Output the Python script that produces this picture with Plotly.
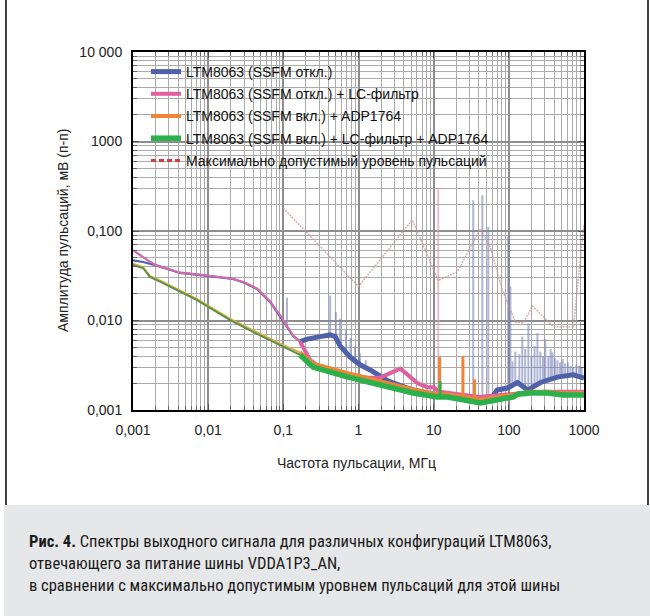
import plotly.graph_objects as go

# ---------------- data ----------------
blue_f = [0.001, 0.00136, 0.00209, 0.00284, 0.00423, 0.0078, 0.0144, 0.0215, 0.031, 0.0448,
          0.0667, 0.0908, 0.112, 0.135, 0.167, 0.207, 0.309, 0.42, 0.49, 0.57, 0.775, 1.05,
          1.43, 1.67, 2.5, 5.0, 10.0, 20.0, 40.0, 60.0, 70.0, 96.0, 130.0, 178.0, 264.0,
          440.0, 720.0, 1000.0]
blue_v = [0.047, 0.045, 0.041, 0.0376, 0.034, 0.0322, 0.0306, 0.0291, 0.0262, 0.0225,
          0.0161, 0.0112, 0.0085, 0.0067, 0.0058, 0.0062, 0.0066, 0.0069, 0.0066, 0.0052, 0.0039, 0.0032,
          0.0028, 0.0026, 0.0021, 0.0017, 0.0015, 0.0014, 0.0013, 0.0014, 0.00167, 0.00176, 0.00203, 0.00167, 0.00203,
          0.00233, 0.00247, 0.00227]

pink_f = [0.001, 0.0013, 0.0017, 0.00209, 0.00284, 0.00423, 0.0078, 0.0144, 0.0215, 0.031, 0.0448,
          0.0667, 0.0908, 0.112, 0.135, 0.167, 0.228, 0.309, 0.46, 0.775, 1.31, 1.94, 2.64, 3.59,
          4.45, 6.05, 8.22, 9.9, 12.0, 20.0, 40.0, 100.0, 300.0, 1000.0]
pink_v = [0.061, 0.052, 0.045, 0.041, 0.0378, 0.0342, 0.0325, 0.0308, 0.0293, 0.0264, 0.0227,
          0.0163, 0.0114, 0.0086, 0.0068, 0.0058, 0.0036, 0.0030, 0.0027, 0.0025, 0.0023, 0.0023, 0.0026, 0.0029,
          0.0025, 0.0020, 0.0018, 0.0018, 0.0016, 0.0015, 0.0014, 0.0015, 0.0016, 0.0016]

orange_f = [0.001, 0.00136, 0.00168, 0.0025, 0.0071, 0.0196, 0.054, 0.1, 0.167, 0.25, 0.7,
            1.94, 5.35, 11.2, 15.0, 25.0, 42.0, 70.0, 115.0, 193.0, 326.0, 530.0, 1000.0]
orange_v = [0.043, 0.0395, 0.0315, 0.027, 0.0173, 0.0104, 0.0068, 0.0053, 0.0044, 0.0033, 0.0026,
            0.0021, 0.0017, 0.0015, 0.0015, 0.0014, 0.0013, 0.0014, 0.0015, 0.0016, 0.0016, 0.00155, 0.00155]

green_f = [0.001, 0.00136, 0.00168, 0.00251, 0.00712, 0.0196, 0.0538, 0.1, 0.167, 0.249, 0.708,
           1.94, 5.35, 11.2, 15.2, 24.8, 41.8, 70.3, 115.0, 130.0, 193.0, 326.0, 532.0, 1000.0]
green_v = [0.0415, 0.0386, 0.0306, 0.0262, 0.0169, 0.0101, 0.00655, 0.00506, 0.00412, 0.00302, 0.00234,
           0.0019, 0.00155, 0.0014, 0.0014, 0.0013, 0.0012, 0.0013, 0.0014, 0.0015, 0.00155, 0.00155, 0.00147, 0.00147]

limit_f = [0.1, 1.0, 5.2, 11.5, 20.6, 41.7, 56.7, 82.0, 122.0, 156.0, 206.0, 392.0, 723.0, 955.0, 1000.0]
limit_v = [0.18, 0.024, 0.133, 0.028, 0.035, 0.105, 0.066, 0.022, 0.0096, 0.0094, 0.0145, 0.0085, 0.0085, 0.079, 0.12]

# spikes: frequency, foot, top
blue_spk_f = [0.112, 0.42, 0.50, 0.57, 0.68, 0.78, 0.90, 1.05, 1.25, 33.6, 44.4, 53.3, 98.0, 105.0,
              112.0, 122.0, 138.0, 151.0, 165.0, 182.0, 200.0, 220.0, 240.0, 262.0, 285.0, 306.0,
              335.0, 360.0, 380.0, 410.0, 443.0, 480.0, 520.0, 560.0, 610.0, 660.0, 720.0, 790.0,
              860.0, 930.0]
blue_spk_lo = [0.0085, 0.0069, 0.0066, 0.0052, 0.0045, 0.0039, 0.0035, 0.0032, 0.003, 0.0013, 0.0013, 0.0013, 0.0017, 0.0018,
               0.0019, 0.002, 0.002, 0.0018, 0.0017, 0.0017, 0.0019, 0.002, 0.002, 0.002, 0.0021, 0.0021,
               0.0021, 0.0022, 0.0022, 0.0023, 0.0023, 0.0023, 0.0024, 0.0024, 0.0024, 0.0025, 0.0025, 0.0024,
               0.0024, 0.0023]
blue_spk_hi = [0.018, 0.019, 0.0125, 0.0105, 0.0078, 0.0064, 0.0052, 0.0043, 0.0036, 0.22, 0.25, 0.111, 0.086, 0.024,
               0.0035, 0.0045, 0.0042, 0.0066, 0.0048, 0.0093, 0.0040, 0.0052, 0.0072, 0.0045, 0.0040, 0.0062,
               0.0040, 0.0048, 0.0044, 0.0038, 0.0036, 0.0034, 0.0037, 0.0033, 0.0034, 0.0031, 0.0030, 0.0032,
               0.0031, 0.0030]
pink_spk_f = [11.5]
pink_spk_lo = [0.0016]
pink_spk_hi = [0.3]
orange_spk_f = [12.0, 24.5, 35.0]
orange_spk_lo = [0.0014, 0.0013, 0.0013]
orange_spk_hi = [0.0039, 0.0040, 0.0022]
green_spk_f = [12.2]
green_spk_lo = [0.0014]
green_spk_hi = [0.0021]

names = ["LTM8063 (SSFM откл.)",
         "LTM8063 (SSFM откл.) + LC-фильтр",
         "LTM8063 (SSFM вкл.) + ADP1764",
         "LTM8063 (SSFM вкл.) + LC-фильтр + ADP1764",
         "Максимально допустимый уровень пульсаций"]

x_ticks = [0.001, 0.01, 0.1, 1, 10, 100, 1000]
x_text = ["0,001", "0,01", "0,1", "1", "10", "100", "1000"]
y_ticks = [0.001, 0.01, 0.1, 1, 10]
y_text = ["0,001", "0,010", "0,100", "1000", "10 000"]

caption = ["<b>Рис. 4.</b> Спектры выходного сигнала для различных конфигураций LTM8063,",
           "отвечающего за питание шины VDDA1P3_AN,",
           "в сравнении с максимально допустимым уровнем пульсаций для этой шины"]

# ---------------- layout geometry ----------------
W, H = 650, 616
L, R, T, B = 133, 584, 52, 410
def X(px): return (px - L) / (R - L)
def Y(py): return (B - py) / (B - T)

FONT = "Liberation Sans, Arial, sans-serif"
SPLIT = 0.167

fig = go.Figure()

def spikes(fs, lo, hi, color, width):
    xs, ys = [], []
    for f, a, b in zip(fs, lo, hi):
        xs += [f, f, None]
        ys += [a, b, None]
    fig.add_trace(go.Scatter(x=xs, y=ys, mode="lines", line=dict(color=color, width=width),
                             showlegend=False, hoverinfo="skip"))

spikes(blue_spk_f, blue_spk_lo, blue_spk_hi, "rgba(120,132,188,0.6)", 2)
spikes(pink_spk_f, pink_spk_lo, pink_spk_hi, "rgba(225,160,185,0.7)", 2)

def series(fs, vs, color_lo, color, lw_lo, lw_hi, name, rank):
    lo = [(f, v) for f, v in zip(fs, vs) if f <= SPLIT]
    hi = [(f, v) for f, v in zip(fs, vs) if f >= SPLIT]
    fig.add_trace(go.Scatter(x=[p[0] for p in lo], y=[p[1] for p in lo], mode="lines",
                             line=dict(color=color_lo, width=lw_lo), showlegend=False, hoverinfo="skip",
                             legendgroup="g%d" % rank))
    fig.add_trace(go.Scatter(x=[p[0] for p in hi], y=[p[1] for p in hi], mode="lines",
                             line=dict(color=color, width=lw_hi), name=name, legendrank=rank,
                             legendgroup="g%d" % rank))

series(blue_f, blue_v, "#4f61a8", "#4f61a8", 2.2, 5, names[0], 1)
series(pink_f, pink_v, "#cf6aae", "#e0609f", 2.2, 4, names[1], 2)
series(orange_f, orange_v, "#d9b040", "#f08436", 2, 4, names[2], 3)
spikes(orange_spk_f, orange_spk_lo, orange_spk_hi, "#f08436", 3)
series(green_f, green_v, "#5f8f48", "#2bb14c", 2, 5.5, names[3], 4)
spikes(green_spk_f, green_spk_lo, green_spk_hi, "#2bb14c", 3)

fig.add_trace(go.Scatter(x=limit_f, y=limit_v, mode="lines",
                         line=dict(color="rgba(200,150,150,0.75)", width=1.5, dash="2px,1px"),
                         showlegend=False, hoverinfo="skip"))
fig.add_trace(go.Scatter(x=[None], y=[None], mode="lines",
                         line=dict(color="#d63a3a", width=3, dash="5px,3px"),
                         name=names[4], legendrank=5, legendgroup="g5"))

def minor_vals(lo_exp, hi_exp):
    out = []
    for e in range(lo_exp, hi_exp):
        for m in range(2, 10):
            out.append(m * 10.0 ** e)
    return out

axis_common = dict(type="log", showline=True, linecolor="black", linewidth=2, mirror="allticks",
                   ticks="inside", ticklen=6, tickcolor="#555", tickwidth=1,
                   showgrid=True, gridcolor="#8e8e8e", gridwidth=1.5, zeroline=False,
                   tickfont=dict(family=FONT, size=14, color="#222"), tickmode="array")

fig.update_xaxes(range=[-3, 3], tickvals=x_ticks, ticktext=x_text, ticklabelstandoff=6,
                 minor=dict(tickvals=minor_vals(-3, 3), showgrid=True, gridcolor="#ababab", gridwidth=1,
                            ticks="inside", ticklen=4, tickcolor="#666"),
                 **axis_common)
fig.update_yaxes(range=[-3, 1], tickvals=y_ticks, ticktext=y_text, ticklabelstandoff=6,
                 minor=dict(tickvals=minor_vals(-3, 1), showgrid=True, gridcolor="#ababab", gridwidth=1,
                            ticks="inside", ticklen=4, tickcolor="#666"),
                 **axis_common)

shapes = [
    # white legend panel over the grid
    dict(type="rect", xref="paper", yref="paper", x0=X(135), x1=X(550), y0=Y(180), y1=Y(53.5),
         fillcolor="white", line=dict(width=0), layer="between"),
    # caption background
    dict(type="rect", xref="paper", yref="paper", x0=X(4), x1=X(650), y0=Y(616), y1=Y(505),
         fillcolor="#e6e7e8", line=dict(width=0), layer="below"),
    # frame side lines
    dict(type="line", xref="paper", yref="paper", x0=X(6), x1=X(6), y0=Y(0), y1=Y(505),
         line=dict(color="black", width=1.5)),
    dict(type="line", xref="paper", yref="paper", x0=X(648), x1=X(648), y0=Y(0), y1=Y(505),
         line=dict(color="black", width=1.5)),
]

annotations = [
    dict(text="Частота пульсации, МГц", xref="paper", yref="paper", x=X(356), y=Y(463),
         showarrow=False, font=dict(family=FONT, size=14, color="#222"), xanchor="center", yanchor="middle"),
    dict(text="Амплитуда пульсаций, мВ (п-п)", xref="paper", yref="paper", x=X(63), y=Y(231),
         showarrow=False, textangle=-90, font=dict(family=FONT, size=14, color="#222"),
         xanchor="center", yanchor="middle"),
]
for i, line in enumerate(caption):
    annotations.append(dict(text=line, xref="paper", yref="paper", x=X(27), y=Y(541 + 22 * i),
                            showarrow=False, xanchor="left", yanchor="middle",
                            font=dict(family="Roboto Condensed, Liberation Sans Narrow, DejaVu Sans Condensed, Arial Narrow, sans-serif",
                                      size=16.5, color="#1a1a1a")))

fig.update_layout(
    width=W, height=H, margin=dict(l=L, r=W - R, t=T, b=H - B, autoexpand=False),
    paper_bgcolor="white", plot_bgcolor="white",
    showlegend=True,
    legend=dict(x=X(146), y=Y(56), xanchor="left", yanchor="top", bgcolor="rgba(0,0,0,0)",
                font=dict(family=FONT, size=14, color="#111"), itemwidth=30, tracegroupgap=1,
                traceorder="grouped"),
    shapes=shapes, annotations=annotations,
)

fig.write_html("out.html", config={"displayModeBar": False},
               post_script="document.body.style.margin='0';document.body.style.overflow='hidden';")
